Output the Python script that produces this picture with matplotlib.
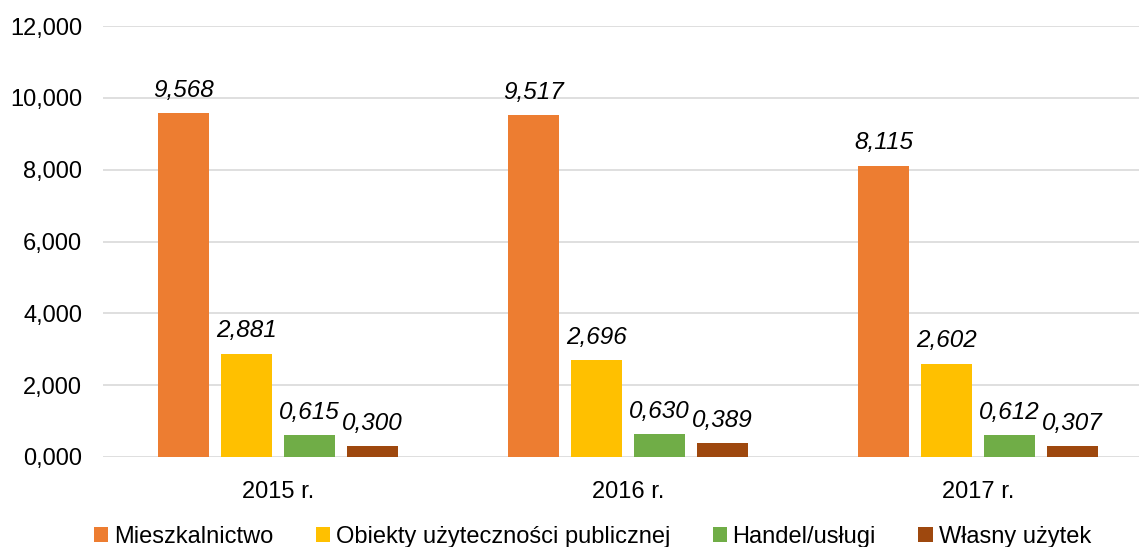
import matplotlib
matplotlib.use("Agg")
import matplotlib.pyplot as plt
import numpy as np

plt.rcParams["font.family"] = ["Liberation Sans", "DejaVu Sans"]

years = ["2015 r.", "2016 r.", "2017 r."]
series = ["Mieszkalnictwo", "Obiekty użyteczności publicznej", "Handel/usługi", "Własny użytek"]
colors = ["#ED7D31", "#FFC000", "#70AD47", "#9E480E"]
mieszkalnictwo = [9.568, 9.517, 8.115]
obiekty = [2.881, 2.696, 2.602]
handel = [0.615, 0.630, 0.612]
wlasny = [0.300, 0.389, 0.307]
values = [mieszkalnictwo, obiekty, handel, wlasny]
yticks = [0, 2, 4, 6, 8, 10, 12]


def pl(v):
    return f"{v:.3f}".replace(".", ",")


fig = plt.figure(figsize=(11.39, 5.47), dpi=100)
ax = fig.add_axes([103 / 1139, 90 / 547, 1050 / 1139, 431 / 547])

x = np.arange(len(years))
width = 0.143
step = 0.18
for i, (name, vals, col) in enumerate(zip(series, values, colors)):
    pos = x + (i - 1.5) * step
    bars = ax.bar(pos, vals, width, color=col, label=name, zorder=3)
    for b, v in zip(bars, vals):
        ax.annotate(pl(v), (b.get_x() + b.get_width() / 2, v), xytext=(0, 8),
                    textcoords="offset points", ha="center", va="bottom",
                    fontsize=17.5, style="italic", color="#000000")

ax.set_xlim(-0.5, 2.5)
ax.set_ylim(0, 12)
ax.set_yticks(yticks)
ax.set_yticklabels([pl(t) for t in yticks])
ax.set_xticks(x)
ax.set_xticklabels(years)
ax.tick_params(axis="both", length=0, labelsize=17, colors="#000000")
ax.tick_params(axis="x", pad=17)
ax.tick_params(axis="y", pad=15)
ax.grid(axis="y", color="#D9D9D9", linewidth=1.2, zorder=0)
for s in ax.spines.values():
    s.set_visible(False)

fig.legend(loc="lower center", bbox_to_anchor=(0.52, -0.04), ncol=4, frameon=False,
           fontsize=17, handlelength=0.6, handleheight=0.6, handletextpad=0.25,
           columnspacing=1.8)

fig.savefig("out.png", dpi=100)
